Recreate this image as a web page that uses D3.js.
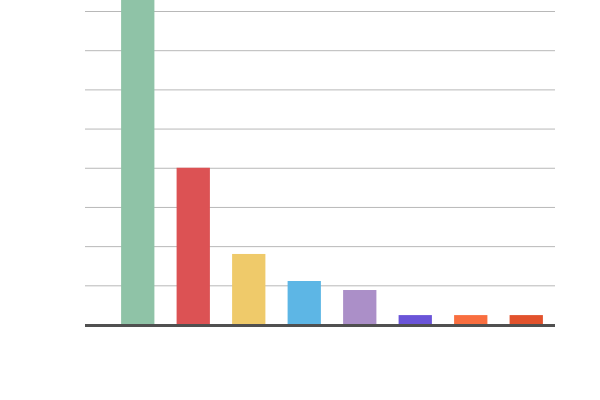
<!DOCTYPE html>
<html>
<head>
<meta charset="UTF-8">
<script src="https://cdn.jsdelivr.net/npm/d3@7"></script>
<style>
  body { margin: 0; background: #fff; }
</style>
</head>
<body>
<svg width="600" height="400"></svg>
<script>
// datos (sin etiquetas visibles)
const categories = ["a", "b", "c", "d", "e", "f", "g", "h"];
const values = [95, 40, 18, 11.1, 8.8, 2.4, 2.4, 2.4];
const colors = ["#8fc3a7", "#dc5254", "#efca6a", "#5db6e5", "#ab8fc8", "#6a54d8", "#f96e3f", "#e2522c"];
const gridTicks = [0, 10, 20, 30, 40, 50, 60, 70, 80];

const svg = d3.select("svg");

const x = d3.scaleBand()
    .domain(categories)
    .range([110, 554])
    .paddingInner(0.4)
    .paddingOuter(0.2);

const y = d3.scaleLinear()
    .domain([0, 80])
    .range([324.5, 11]);

// lineas de cuadricula
svg.append("g")
    .attr("transform", "translate(85,0)")
    .call(d3.axisLeft(y).tickValues(gridTicks.slice(1)).tickSize(-470).tickFormat(""))
    .call(g => g.select(".domain").remove())
    .call(g => g.selectAll("line").attr("stroke", "#b8b8b8").attr("stroke-width", 1));

// barras
svg.selectAll(".bar")
    .data(values)
    .enter().append("rect")
    .attr("class", "bar")
    .attr("x", (d, i) => x(categories[i]))
    .attr("y", d => y(d))
    .attr("width", x.bandwidth())
    .attr("height", d => y(0) - y(d))
    .attr("fill", (d, i) => colors[i]);

// linea base
svg.append("line")
    .attr("x1", 85).attr("x2", 555)
    .attr("y1", y(0) + 1).attr("y2", y(0) + 1)
    .attr("stroke", "#505050")
    .attr("stroke-width", 3);
</script>
</body>
</html>
